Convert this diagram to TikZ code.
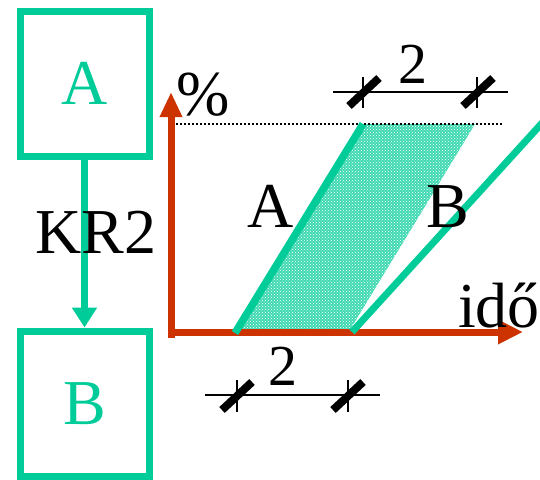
\documentclass[tikz,border=0pt]{standalone}
\usepackage{fontspec}
\setmainfont{Liberation Serif}
\usetikzlibrary{arrows.meta,patterns}
\definecolor{tl}{HTML}{00CC99}
\definecolor{rd}{HTML}{CC3300}
\begin{document}
\begin{tikzpicture}[x=1pt,y=-1pt,
  box/.style={draw=tl,line width=7pt,minimum width=129pt,minimum height=145pt,inner sep=0pt,text=tl,font=\fontsize{64}{70}\selectfont},
  big/.style={inner sep=0pt,font=\fontsize{64}{70}\selectfont},
  num/.style={inner sep=0pt,font=\fontsize{58}{64}\selectfont},
  axis/.style={draw=rd,line width=7pt},
  curve/.style={draw=tl,line width=7.5pt},
  dimline/.style={draw=black,line width=2.5pt},
  tickv/.style={draw=black,line width=1.5pt},
  slash/.style={draw=black,line width=8pt}]
\useasboundingbox (0,0) rectangle (540,479);
% boxes
\node[box] (boxA) at (84.5,83.5) {A};
\node[box] (boxB) at (84.5,403.5) {B};
\draw[draw=tl,line width=7pt,-{Triangle[length=20pt,width=24pt]}] (boxA.south) -- (boxB.north);
\node[big] (kr) at (96,232) {KR2};
% shaded region
\coordinate (a0) at (235,333);
\coordinate (a1) at (363,124);
\coordinate (r1) at (475,124);
\coordinate (r0) at (348,333);
\fill[tl!75] (a0) -- (a1) -- (r1) -- (r0) -- cycle;
\fill[pattern=crosshatch dots,pattern color=white] (a0) -- (a1) -- (r1) -- (r0) -- cycle;
% dotted level
\coordinate (d0) at (168,124);
\coordinate (d1) at (503,124);
\draw[black,line width=1.5pt,dash pattern=on 2pt off 2pt] (d0) -- (d1);
% axes
\coordinate (O) at (171,332);
\coordinate (ytop) at (171,92);
\coordinate (ybot) at (171,337.5);
\coordinate (xleft) at (167.5,332);
\coordinate (xright) at (523,332);
\draw[axis,-{Triangle[length=25pt,width=21pt]}] (ybot) -- (ytop);
\draw[axis,-{Triangle[length=25pt,width=23pt]}] (xleft) -- (xright);
% lines A and B
\draw[curve] (a0) -- (a1);
\coordinate (b0) at (352,332);
\coordinate (b1) at (543,122);
\draw[curve,line width=7pt] (b0) -- (b1);
% labels
\node[big] (labA) at (271,206) {A};
\node[big] (labB) at (448,207) {B};
\node[big] (pct) at (203,95) {\%};
\node[big] (ido) at (499,306) {idő};
% bottom dimension
\coordinate (bd0) at (205,395);
\coordinate (bd1) at (380,395);
\draw[dimline] (bd0) -- (bd1);
\draw[tickv] (237,380) -- (237,412);
\draw[tickv] (348,380) -- (348,412);
\draw[slash] (222,410) -- (252,382);
\draw[slash] (333,410) -- (363,382);
\node[num] (twob) at (283,366) {2};
% top dimension
\coordinate (td0) at (333,92);
\coordinate (td1) at (508,92);
\draw[dimline] (td0) -- (td1);
\draw[tickv] (363,77) -- (363,108);
\draw[tickv] (477,77) -- (477,108);
\draw[slash] (349,106) -- (379,78);
\draw[slash] (463,106) -- (493,78);
\node[num] (twot) at (413,64) {2};
\end{tikzpicture}
\end{document}
